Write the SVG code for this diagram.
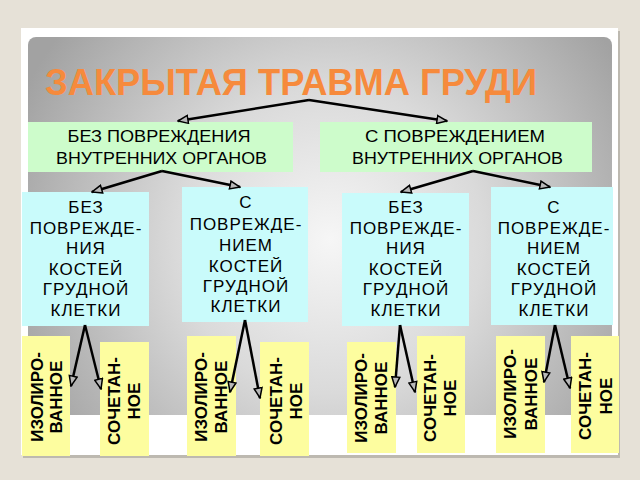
<svg xmlns="http://www.w3.org/2000/svg" width="640" height="480" viewBox="0 0 640 480">
<style>
.t2{font-family:"Liberation Sans",Arial,sans-serif;font-size:17px;fill:#000;text-anchor:middle}
.t3{font-family:"Liberation Sans",Arial,sans-serif;font-size:17px;fill:#000;text-anchor:middle;letter-spacing:1px}
.t4{font-family:"Liberation Sans",Arial,sans-serif;font-size:17px;font-weight:bold;fill:#000;text-anchor:middle}
.g{fill:#cdfccb}
.c{fill:#c9fbfb}
.y{fill:#fdfd9f}
.ln{fill:none;stroke:#000;stroke-width:2.5}
</style>
<defs>
<radialGradient id="bg" gradientUnits="userSpaceOnUse" cx="330" cy="240" r="340">
<stop offset="0" stop-color="#f6f6f6"/>
<stop offset="0.45" stop-color="#dadada"/>
<stop offset="1" stop-color="#a2a2a2"/>
</radialGradient>
<marker id="ah" viewBox="0 0 12 10" refX="11" refY="5" markerWidth="12" markerHeight="10" markerUnits="userSpaceOnUse" orient="auto">
<path d="M1,1 L11,5 L1,9 Z" fill="#b8b8b8" stroke="#000" stroke-width="1.5"/>
</marker>
</defs>
<rect width="640" height="480" fill="#e6e1d7"/>
<rect x="23" y="31" width="597" height="427" fill="#bdb9b0"/>
<rect x="21" y="28" width="597" height="427" fill="#ffffff"/>
<rect x="28" y="37" width="584" height="378" rx="8" fill="url(#bg)"/>
<g id="title">
<text x="45" y="95" font-family="'Liberation Sans',Arial,sans-serif" font-size="36" font-weight="bold" fill="#f68a3c" textLength="492" lengthAdjust="spacingAndGlyphs">ЗАКРЫТАЯ ТРАВМА ГРУДИ</text>
</g>
<g id="n-bez-vnutr">
<rect class="g" x="28" y="122" width="265" height="50"/>
<text class="t2" x="159" y="142" textLength="183" lengthAdjust="spacingAndGlyphs">БЕЗ ПОВРЕЖДЕНИЯ</text>
<text class="t2" x="161.5" y="164" textLength="211" lengthAdjust="spacingAndGlyphs">ВНУТРЕННИХ ОРГАНОВ</text>
</g>
<g id="n-s-vnutr">
<rect class="g" x="320" y="122" width="272" height="50"/>
<text class="t2" x="455" y="142" textLength="180" lengthAdjust="spacingAndGlyphs">С  ПОВРЕЖДЕНИЕМ</text>
<text class="t2" x="457.5" y="164" textLength="211" lengthAdjust="spacingAndGlyphs">ВНУТРЕННИХ ОРГАНОВ</text>
</g>
<g id="n-bez-kost-1">
<rect class="c" x="22" y="192" width="127" height="134"/>
<text class="t3" x="86" y="213">БЕЗ</text>
<text class="t3" x="86" y="233.5">ПОВРЕЖДЕ-</text>
<text class="t3" x="86" y="254">НИЯ</text>
<text class="t3" x="86" y="274.5">КОСТЕЙ</text>
<text class="t3" x="86" y="295">ГРУДНОЙ</text>
<text class="t3" x="86" y="315.5">КЛЕТКИ</text>
</g>
<g id="n-s-kost-1">
<rect class="c" x="182" y="187" width="126" height="135"/>
<text class="t3" x="246" y="208">С</text>
<text class="t3" x="246" y="230">ПОВРЕЖДЕ-</text>
<text class="t3" x="246" y="251">НИЕМ</text>
<text class="t3" x="246" y="272">КОСТЕЙ</text>
<text class="t3" x="246" y="292">ГРУДНОЙ</text>
<text class="t3" x="246" y="312">КЛЕТКИ</text>
</g>
<g id="n-bez-kost-2">
<rect class="c" x="342" y="193" width="127" height="133"/>
<text class="t3" x="406" y="213">БЕЗ</text>
<text class="t3" x="406" y="233.5">ПОВРЕЖДЕ-</text>
<text class="t3" x="406" y="254">НИЯ</text>
<text class="t3" x="406" y="274.5">КОСТЕЙ</text>
<text class="t3" x="406" y="295">ГРУДНОЙ</text>
<text class="t3" x="406" y="315.5">КЛЕТКИ</text>
</g>
<g id="n-s-kost-2">
<rect class="c" x="491" y="187" width="122" height="138"/>
<text class="t3" x="554" y="213">С</text>
<text class="t3" x="554" y="233.5">ПОВРЕЖДЕ-</text>
<text class="t3" x="554" y="254">НИЕМ</text>
<text class="t3" x="554" y="274.5">КОСТЕЙ</text>
<text class="t3" x="554" y="295">ГРУДНОЙ</text>
<text class="t3" x="554" y="315.5">КЛЕТКИ</text>
</g>
<g id="n-iz-1">
<rect class="y" x="22" y="336" width="48" height="120"/>
<text class="t4" transform="translate(0,397) rotate(-90)"><tspan x="0" y="43">ИЗОЛИРО-</tspan><tspan x="0" y="62">ВАННОЕ</tspan></text>
</g>
<g id="n-so-1">
<rect class="y" x="100" y="342" width="49" height="114"/>
<text class="t4" transform="translate(0,401) rotate(-90)"><tspan x="0" y="120">СОЧЕТАН-</tspan><tspan x="0" y="140">НОЕ</tspan></text>
</g>
<g id="n-iz-2">
<rect class="y" x="187" y="336" width="49" height="120"/>
<text class="t4" transform="translate(0,397) rotate(-90)"><tspan x="0" y="207">ИЗОЛИРО-</tspan><tspan x="0" y="227">ВАННОЕ</tspan></text>
</g>
<g id="n-so-2">
<rect class="y" x="260" y="342" width="49" height="114"/>
<text class="t4" transform="translate(0,401) rotate(-90)"><tspan x="0" y="282">СОЧЕТАН-</tspan><tspan x="0" y="302">НОЕ</tspan></text>
</g>
<g id="n-iz-3">
<rect class="y" x="347" y="342" width="49" height="111"/>
<text class="t4" transform="translate(0,398) rotate(-90)"><tspan x="0" y="367">ИЗОЛИРО-</tspan><tspan x="0" y="387">ВАННОЕ</tspan></text>
</g>
<g id="n-so-3">
<rect class="y" x="417" y="336" width="48" height="117"/>
<text class="t4" transform="translate(0,398) rotate(-90)"><tspan x="0" y="436">СОЧЕТАН-</tspan><tspan x="0" y="456">НОЕ</tspan></text>
</g>
<g id="n-iz-4">
<rect class="y" x="496" y="336" width="49" height="117"/>
<text class="t4" transform="translate(0,394) rotate(-90)"><tspan x="0" y="516">ИЗОЛИРО-</tspan><tspan x="0" y="537">ВАННОЕ</tspan></text>
</g>
<g id="n-so-4">
<rect class="y" x="571" y="336" width="48" height="117"/>
<text class="t4" transform="translate(0,396) rotate(-90)"><tspan x="0" y="591">СОЧЕТАН-</tspan><tspan x="0" y="612">НОЕ</tspan></text>
</g>
<g id="connectors" class="ln" marker-end="url(#ah)">
<path d="M309,100 L178,121"/>
<path d="M309,100 L447,121"/>
<path d="M162,171 L92,192"/>
<path d="M162,171 L240,187"/>
<path d="M473,171 L401,192"/>
<path d="M473,171 L550,187"/>
<path d="M85,325 L71,386"/>
<path d="M85,325 L101,389"/>
<path d="M245,320 L230,392"/>
<path d="M245,320 L260,398"/>
<path d="M400,325 L395,387"/>
<path d="M400,325 L415,392"/>
<path d="M555,325 L544,382"/>
<path d="M555,325 L570,388"/>
</g>
</svg>
